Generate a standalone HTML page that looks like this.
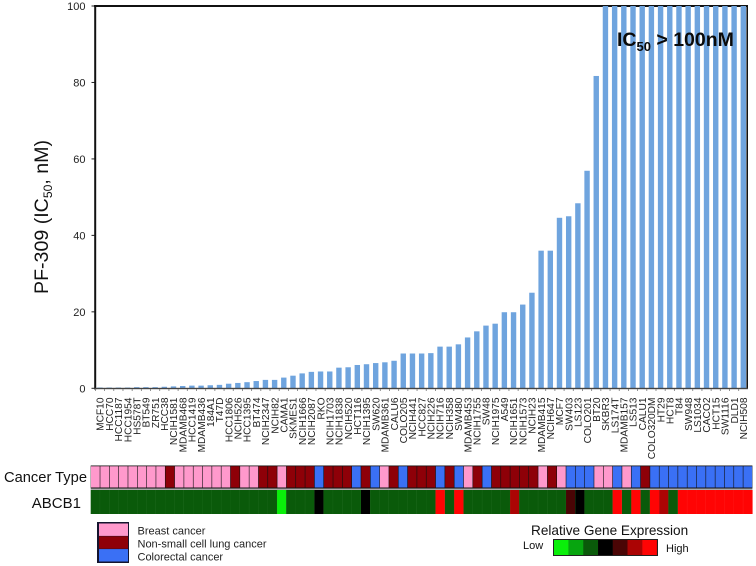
<!DOCTYPE html>
<html lang="en">
<head>
<meta charset="utf-8">
<title>PF-309 IC50 by cell line</title>
<style>
html,body{margin:0;padding:0;background:#fff;}
svg{display:block;font-family:"Liberation Sans",Arial,sans-serif;filter:blur(0.35px);}
</style>
</head>
<body>
<svg id="chart" xmlns="http://www.w3.org/2000/svg" width="756" height="566" viewBox="0 0 756 566"></svg>
<script>
const cellLines = ["MCF10","HCC70","HCC1187","HCC1954","HS578T","BT549","ZR751","HCC38","NCIH1581","MDAMB468","HCC1419","MDAMB436","184A1","T47D","HCC1806","NCIH526","HCC1395","BT474","NCIH2347","NCIH82","CAMA1","SKMES1","NCIH1666","NCIH2087","RKO","NCIH1703","NCIH1838","NCIH520","HCT116","NCIH1395","SW620","MDAMB361","CALU6","COLO205","NCIH441","HCC827","NCIH226","NCIH716","NCIH358","SW480","MDAMB453","NCIH1755","SW48","NCIH1975","A549","NCIH1651","NCIH1573","NCIH23","MDAMB415","NCIH647","MCF7","SW403","LS123","COLO201","BT20","SKBR3","LS174T","MDAMB157","LS513","CALU1","COLO320DM","HT29","HCT8","T84","SW948","LS1034","CACO2","HCT15","SW1116","DLD1","NCIH508"];
const ic50Values = [0.2,0.2,0.2,0.2,0.3,0.3,0.3,0.4,0.5,0.6,0.7,0.7,0.8,0.9,1.2,1.4,1.6,1.9,2.2,2.2,2.8,3.3,3.9,4.3,4.4,4.4,5.4,5.5,6.1,6.3,6.6,6.8,7.2,9.1,9.1,9.1,9.2,10.9,10.9,11.5,13.3,14.9,16.4,16.9,19.9,19.9,21.9,25,36,36,44.6,45,48.4,56.9,81.7,100,100,100,100,100,100,100,100,100,100,100,100,100,100,100,100];
const cancerTypes = ["B","B","B","B","B","B","B","B","N","B","B","B","B","B","B","N","B","B","N","N","B","N","N","N","C","N","N","N","C","N","C","B","N","C","N","N","N","C","N","C","B","N","C","N","N","N","N","N","B","N","B","C","C","C","B","B","C","B","C","N","C","C","C","C","C","C","C","C","C","C","C"];
const abcb1Levels = [-2,-2,-2,-2,-2,-2,-2,-2,-2,-2,-2,-2,-2,-2,-2,-2,-2,-2,-2,-2,-3,-2,-2,-2,0,-2,-2,-2,-2,0,-2,-2,-2,-2,-2,-2,-2,4,-2,4,-2,-2,-2,-2,-2,3,-2,-2,-2,-2,-2,1,0,-2,-2,-2,4,-2,4,-2,4,3,-2,4,4,4,4,4,4,4,4];
const yTicks = [0,20,40,60,80,100];
const legendLabels = ["Breast cancer","Non-small cell lung cancer","Colorectal cancer"];
const legendKeys = ["B","N","C"];
const scaleLevels = [-3,-2.5,-2,0,2,3,4];

const typeColor = {B:"#ff99cc",N:"#8e0008",C:"#3a70f5"};
const levelColor = {"-3":"#0aef0a","-2.5":"#07a50f","-2":"#0a5a0a","0":"#000000","1":"#4a0505","2":"#4a0505","3":"#ab0404","4":"#ff0404"};
const NS = "http://www.w3.org/2000/svg";
const svg = document.getElementById("chart");
function make(tag, attrs, text) {
  const el = document.createElementNS(NS, tag);
  for (const k in attrs) el.setAttribute(k, attrs[k]);
  if (text !== undefined) el.textContent = text;
  svg.appendChild(el);
  return el;
}
const yZero = 388.3, yUnit = 3.823;
function yScale(v) { return yZero - Math.min(v, 100) * yUnit; }
const bandW = 9.19, plotL = 95.4;
function xCenter(i) { return plotL + bandW * (i + 0.5); }
const heatL = 90.7, heatW = 9.32;
function heatX(i) { return heatL + heatW * i; }

// frame: top line sits beneath the bars
const topLine = make("rect", {x:94, y:5, width:654, height:2, fill:"#111"});



// bars
ic50Values.forEach(function (v, i) {
  const y = yScale(v);
  const bar = make("rect", {x:xCenter(i) - 2.7, y:y, width:5.4, height:yZero - y, fill:"#6fa4de"});
  
  
});

// axes
const leftAxis = make("rect", {x:94.2, y:5, width:2, height:384.5, fill:"#111"});


const rightBorder = make("rect", {x:746.4, y:5, width:1.6, height:384, fill:"#111"});


const bottomAxis = make("rect", {x:94, y:387.8, width:654, height:1.4, fill:"#444"});



// y ticks
yTicks.forEach(function (t) {
  const y = yScale(t);
  const tick = make("rect", {x:91.5, y:y - 0.5, width:3, height:1, fill:"#222"});
  
  
  const lab = make("text", {x:85.5, y:y + 4, "text-anchor":"end", "font-size":"11", fill:"#222"}, String(t));
  
  
});

// x ticks and labels
cellLines.forEach(function (name, i) {
  const tick = make("rect", {x:plotL + bandW * i - 0.4, y:389, width:0.8, height:2, fill:"#777"});
  
  
  const cx = xCenter(i) + 3.7;
  const lab = make("text", {x:cx, y:397.5, transform:"rotate(-90 " + cx + " 397.5)", "text-anchor":"end", "font-size":"10.2", fill:"#222"}, name);
  
  
});

// heatmap row 1
const typeFrame = make("rect", {x:heatL, y:465.5, width:heatW * 71, height:23, fill:"#111"});


cancerTypes.forEach(function (c, i) {
  const cell = make("rect", {x:heatX(i) + 0.3, y:466.3, width:heatW - 0.6, height:21.2, fill:typeColor[c]});
  
  
});
// heatmap row 2
const rowGap = make("rect", {x:heatL, y:488.5, width:heatW * 71, height:1.5, fill:"#a9a9a9"});


abcb1Levels.forEach(function (l, i) {
  const cell = make("rect", {x:heatX(i), y:490, width:heatW, height:24, fill:levelColor[String(l)]});
  
  
  const sep = make("rect", {x:heatX(i) + heatW - 0.25, y:490, width:0.5, height:24, fill:l === 4 ? "#ff2020" : "#1c6a1c"});
  
  
});

// legend
const legendFrame = make("rect", {x:97, y:522, width:32, height:41, fill:"#14142e"});


legendKeys.forEach(function (k, i) {
  const sw = make("rect", {x:99, y:523.5 + 12.8 * i, width:29, height:12.4, fill:typeColor[k]});
  
  
  const t = make("text", {x:137.5, y:534.5 + 13 * i, "font-size":"11", fill:"#222"}, legendLabels[i]);
  
  
});

// gene expression scale
const geFrame = make("rect", {x:553, y:539, width:105, height:17, fill:"#222"});


scaleLevels.forEach(function (l, i) {
  const c = make("rect", {x:554 + 14.7 * i, y:540, width:14.7, height:15, fill:levelColor[String(l)]});
  
  
});
</script>
<script>
// static text labels
(function () {
  const s = document.getElementById("chart");
  s.insertAdjacentHTML("beforeend",
    '<text x="48" y="294" transform="rotate(-90 48 294)" font-size="19.6" fill="#111">PF-309 (IC<tspan font-size="12.2" dy="4">50</tspan><tspan dy="-4">, nM)</tspan></text>' +
    '<text x="617" y="46" font-size="19.5" font-weight="bold" fill="#0a0a0a">IC<tspan font-size="13" dy="5">50</tspan><tspan dy="-5"> &gt; 100nM</tspan></text>' +
    '<text x="87" y="482" text-anchor="end" font-size="14.7" fill="#111">Cancer Type</text>' +
    '<text x="81" y="508" text-anchor="end" font-size="15" fill="#111">ABCB1</text>' +
    '<text x="531" y="535" font-size="13.6" fill="#111">Relative Gene Expression</text>' +
    '<text x="523" y="549" font-size="11" fill="#111">Low</text>' +
    '<text x="666" y="552" font-size="11" fill="#111">High</text>');
})();
</script>
</body>
</html>
